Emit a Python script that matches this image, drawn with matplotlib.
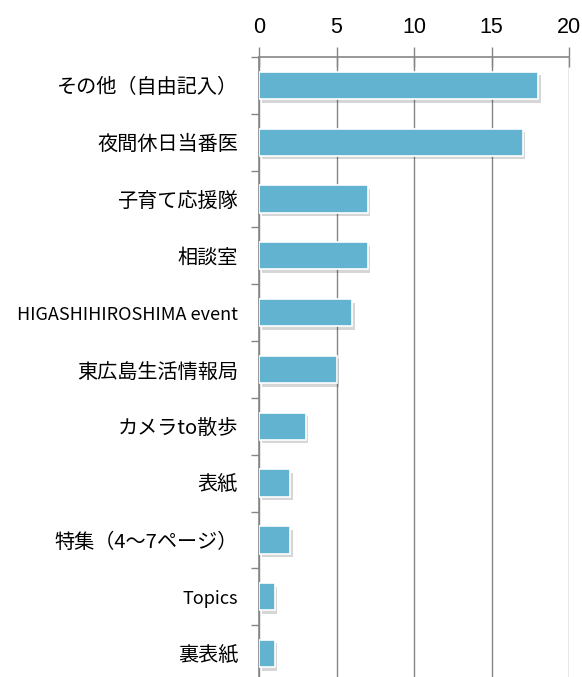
import numpy as np
import matplotlib
matplotlib.use("Agg")
import matplotlib.pyplot as plt
import matplotlib.patheffects as pe

plt.rcParams['font.family'] = ['Noto Sans CJK JP', 'DejaVu Sans']

# data
categories = ['その他（自由記入）', '夜間休日当番医', '子育て応援隊', '相談室',
              'HIGASHIHIROSHIMA event', '東広島生活情報局', 'カメラto散歩',
              '表紙', '特集（4〜7ページ）', 'Topics', '裏表紙']
values = [18, 17, 7, 7, 6, 5, 3, 2, 2, 1, 1]
xticks = [0, 5, 10, 15, 20]

fig = plt.figure(figsize=(5.82, 6.77), dpi=100)
# top spine at y=57 px, left spine at x=259 px
ax = fig.add_axes([259/582, -5/677, 310/582, (677 - 57 + 5)/677])

y = np.arange(len(categories))
bars = ax.barh(y, values, height=0.48, color='#62b3cf', edgecolor='white',
               linewidth=1.2, zorder=3)
for b in bars:
    b.set_path_effects([pe.SimplePatchShadow(offset=(2, -2.5), alpha=0.2,
                                             shadow_rgbFace='#333333'),
                        pe.Normal()])

ax.set_xlim(0, 20)
ax.set_ylim(len(categories) - 0.5, -0.5)
ax.xaxis.tick_top()
ax.set_xticks(xticks)
ax.set_xticklabels([str(t) for t in xticks], fontsize=15.5,
                   family=['Liberation Sans', 'DejaVu Sans'])
ax.tick_params(axis='x', direction='inout', length=14, width=1, color='#868686', pad=7)
ax.grid(axis='x', color='#868686', linewidth=1, zorder=0)

ax.set_yticks(y)
ax.set_yticklabels(categories)
for lab in ax.get_yticklabels():
    lab.set_fontsize(13 if lab.get_text().isascii() else 14.5)
ax.tick_params(axis='y', length=0, pad=15)
ax.set_yticks(np.arange(len(categories) + 1) - 0.5, minor=True)
ax.tick_params(axis='y', which='minor', length=6, width=1, color='#868686')

for s in ['right', 'bottom']:
    ax.spines[s].set_visible(False)
for s in ['top', 'left']:
    ax.spines[s].set_color('#868686')
    ax.spines[s].set_linewidth(1.2)

fig.savefig('out.png', dpi=100)
